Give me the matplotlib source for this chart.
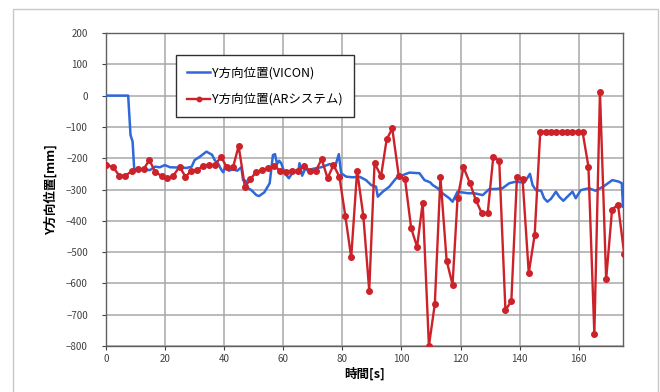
import matplotlib
matplotlib.use("Agg")
import matplotlib.pyplot as plt
from matplotlib.patches import Rectangle

plt.rcParams['font.family'] = ['Noto Sans CJK JP', 'DejaVu Sans']

# VICON series (time [s], Y position [mm])
vicon_t = [0, 7.5, 8.3, 9.0, 9.6, 10.1, 10.6, 12.5, 14.9, 16.6, 18.2, 19.9, 21.7, 25.0,
           27.4, 29.0, 30.0, 31.8, 34.0, 35.9, 36.8, 38.0, 39.1, 39.7, 40.4, 41.6, 43.0,
           44.4, 45.8, 46.4, 47.3, 48.1, 49.2, 50.9, 51.8, 53.6, 55.4, 56.5, 57.2, 57.9,
           58.6, 59.3, 60.5, 61.9, 63.6, 65.0, 65.5, 66.4, 67.4, 68.5, 70.0, 72.8, 75.7,
           77.8, 78.8, 79.6, 81.3, 83.5, 85.8, 88.0, 89.8, 91.4, 92.0, 93.7, 95.9, 98.2,
           100.5, 102.7, 106.1, 107.8, 109.7, 110.6, 112.3, 113.9, 116.2, 117.3, 119.0,
           122.5, 124.7, 127.5, 129.7, 132.4, 134.2, 136.5, 138.7, 141.6, 143.5, 144.4,
           145.5, 147.3, 148.3, 149.4, 150.6, 152.3, 153.4, 154.8, 156.5, 157.9, 159.0,
           160.7, 163.5, 165.7, 168.6, 171.4, 173.6, 174.6, 175.0]
vicon_y = [0, 0, -126, -147, -243, -235, -238, -236, -238, -227, -229, -222, -229, -230,
           -231, -227, -206, -195, -179, -189, -206, -218, -238, -245, -224, -240, -235,
           -240, -229, -270, -272, -296, -302, -318, -321, -309, -280, -190, -187, -219,
           -208, -216, -248, -264, -240, -248, -216, -256, -234, -240, -234, -229, -219,
           -219, -187, -248, -259, -261, -259, -270, -286, -291, -323, -307, -291, -264,
           -254, -246, -248, -270, -277, -286, -296, -312, -328, -339, -307,
           -312, -312, -318, -299, -298, -296, -280, -275, -278, -250, -286,
           -302, -304, -328, -339, -330, -307, -323, -336, -320, -307, -328,
           -302, -296, -304, -289, -270, -275, -280, -355]

# AR system series (time [s], Y position [mm])
ar_t = [0.0, 2.3, 4.5, 6.6, 8.7, 10.8, 12.7, 14.7, 16.7, 18.8, 20.8, 22.8, 24.9, 26.9,
        28.9, 30.9, 32.9, 34.9, 36.9, 38.9, 40.9, 43.0, 44.9, 47.0, 48.9, 50.8, 52.9,
        54.9, 56.9, 58.9, 60.9, 62.9, 64.9, 66.9, 69.0, 71.0, 73.0, 75.0, 77.0, 79.0,
        81.0, 83.0, 85.0, 87.1, 89.1, 90.9, 93.1, 95.0, 96.9, 99.1, 101.2, 103.3, 105.3,
        107.2, 109.3, 111.3, 113.2, 115.3, 117.3, 119.0, 121.0, 123.2, 125.2, 127.2,
        129.2, 131.1, 133.1, 135.2, 137.2, 139.1, 141.0, 143.1, 145.1, 147.0, 148.8,
        150.6, 152.4, 154.2, 156.0, 157.8, 159.6, 161.3, 163.3, 165.3, 167.2, 169.3,
        171.3, 173.3, 175.4]
ar_y = [-222, -227, -256, -256, -241, -235, -235, -206, -245, -256, -264, -256, -227,
        -259, -240, -238, -224, -221, -223, -195, -229, -229, -161, -291, -267, -244,
        -238, -232, -224, -240, -243, -240, -240, -224, -240, -240, -203, -264, -222,
        -259, -384, -517, -240, -384, -623, -216, -257, -140, -105, -257, -266, -424,
        -483, -342, -800, -666, -261, -527, -604, -328, -229, -280, -334, -376, -376,
        -195, -208, -685, -657, -261, -266, -567, -445, -115, -115, -115, -115, -115,
        -115, -115, -115, -115, -227, -762, 12, -587, -364, -348, -505]

fig = plt.figure(figsize=(6.6, 3.92), dpi=100)
fig.patches.append(Rectangle((13 / 660, -0.05), 645 / 660, 1.05 - 9 / 392,
                             transform=fig.transFigure, fill=False,
                             edgecolor='#c8c8c8', linewidth=1.0))
ax = fig.add_axes([106 / 660, 1 - 346 / 392, 517 / 660, 313 / 392])

ax.plot(vicon_t, vicon_y, color='#2f68d8', linewidth=1.8, label='Y方向位置(VICON)', zorder=3)
ax.plot(ar_t, ar_y, color='#cc2229', linewidth=1.7, marker='o', markersize=4.0,
        label='Y方向位置(ARシステム)', zorder=4)

ax.set_xlim(0, 175)
ax.set_ylim(-800, 200)
ax.set_xticks(range(0, 161, 20))
ax.set_yticks(range(-800, 201, 100))
ax.grid(True, color='#a8a8a8', linewidth=1.1)
ax.set_axisbelow(True)
for s in ax.spines.values():
    s.set_color('#606060')
    s.set_linewidth(1.0)
ax.tick_params(axis='both', labelsize=7, colors='#404040', length=3, width=0.8,
               direction='out', pad=3)
ax.tick_params(axis='y', pad=10)
for lab in ax.get_yticklabels():
    lab.set_horizontalalignment('right')

ax.set_xlabel('時間[s]', fontsize=9, fontweight='bold', labelpad=2)
ax.set_ylabel('Y方向位置[mm]', fontsize=9, fontweight='bold', labelpad=6)

leg = ax.legend(loc='upper left', bbox_to_anchor=((176 - 106) / 517, (346 - 55) / 313),
                fontsize=9, frameon=True, fancybox=False, handlelength=1.8,
                labelspacing=1.1, borderpad=0.9, handletextpad=0.2, borderaxespad=0,
                markerscale=0.8)
leg.get_frame().set_edgecolor('#303030')
leg.get_frame().set_linewidth(1.0)
leg.get_frame().set_alpha(1.0)

fig.savefig('out.png', dpi=100)
